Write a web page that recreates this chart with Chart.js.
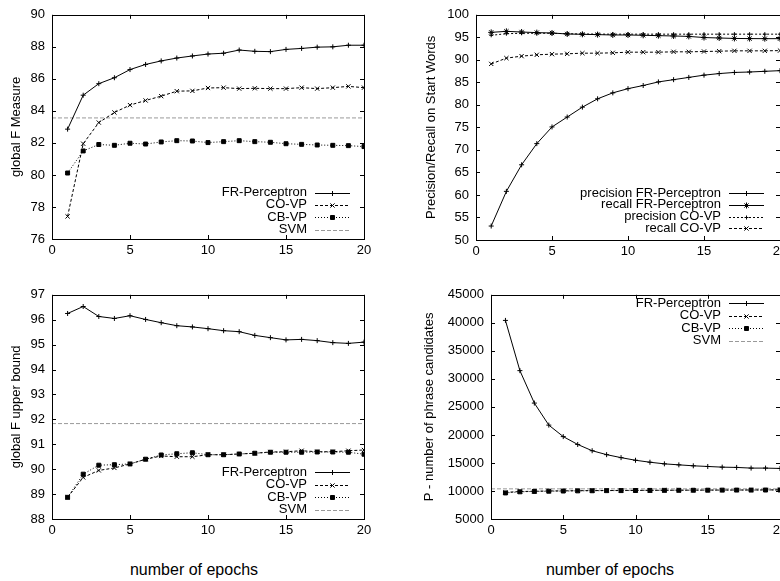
<!DOCTYPE html>
<html>
<head>
<meta charset="utf-8">
<script src="https://cdn.jsdelivr.net/npm/chart.js@4.4.1/dist/chart.umd.min.js"></script>
<style>
  html, body { margin: 0; padding: 0; background: #fff; }
  body { width: 780px; height: 581px; position: relative; overflow: hidden; font-family: 'Liberation Sans', Arial, sans-serif; }
  canvas { position: absolute; }
  .xtitle { position: absolute; font-size: 16px; color: #000; transform: translate(-50%, -50%); white-space: nowrap; }
</style>
</head>
<body>
<canvas id="c1" width="390" height="290" style="left:0;top:0"></canvas>
<canvas id="c2" width="420" height="290" style="left:390px;top:0"></canvas>
<canvas id="c3" width="390" height="270" style="left:0;top:280px"></canvas>
<canvas id="c4" width="420" height="270" style="left:390px;top:280px"></canvas>
<div class="xtitle" style="left:194px;top:570px">number of epochs</div>
<div class="xtitle" style="left:610px;top:570px">number of epochs</div>

<script>
// Datos
const epochs = [1, 2, 3, 4, 5, 6, 7, 8, 9, 10, 11, 12, 13, 14, 15, 16, 17, 18, 19, 20];
const xTicks = [0, 5, 10, 15, 20];

// global F Measure
const fMeasureFR = [82.86, 84.98, 85.70, 86.07, 86.58, 86.90, 87.12, 87.30, 87.43, 87.55, 87.60, 87.80, 87.72, 87.70, 87.84, 87.90, 87.98, 88.00, 88.10, 88.10];
const fMeasureCO = [77.41, 81.95, 83.27, 83.90, 84.36, 84.65, 84.92, 85.23, 85.25, 85.43, 85.45, 85.39, 85.41, 85.39, 85.39, 85.45, 85.39, 85.45, 85.53, 85.45];
const fMeasureCB = [80.12, 81.50, 81.90, 81.85, 81.98, 81.93, 82.06, 82.14, 82.12, 82.02, 82.08, 82.14, 82.08, 82.04, 81.95, 81.91, 81.87, 81.85, 81.83, 81.77];
const fMeasureSVM = 83.56;
const fMeasureTicks = [76, 90, 2];

// Precision/Recall on Start Words
const precisionFR = [53.1, 60.8, 66.7, 71.4, 75.1, 77.3, 79.5, 81.35, 82.67, 83.6, 84.3, 85.1, 85.6, 86.1, 86.6, 86.95, 87.2, 87.3, 87.45, 87.6];
const recallFR = [96.1, 96.33, 96.18, 96.04, 95.96, 95.74, 95.67, 95.6, 95.52, 95.52, 95.45, 95.37, 95.3, 95.2, 94.95, 94.85, 94.75, 94.72, 94.7, 94.7];
const precisionCO = [95.45, 95.8, 95.9, 95.9, 95.9, 95.8, 95.74, 95.72, 95.7, 95.7, 95.7, 95.7, 95.7, 95.7, 95.7, 95.7, 95.7, 95.7, 95.7, 95.7];
const recallCO = [89.1, 90.38, 90.82, 91.12, 91.26, 91.34, 91.48, 91.48, 91.56, 91.7, 91.7, 91.7, 91.78, 91.78, 91.85, 91.92, 92.0, 92.0, 92.0, 92.05];
const prTicks = [50, 100, 5];

// global F upper bound
const upperFR = [96.25, 96.53, 96.13, 96.05, 96.16, 96.01, 95.88, 95.76, 95.71, 95.64, 95.56, 95.52, 95.37, 95.28, 95.19, 95.21, 95.16, 95.08, 95.05, 95.10];
const upperCO = [88.87, 89.67, 89.95, 90.05, 90.21, 90.40, 90.53, 90.50, 90.50, 90.58, 90.58, 90.61, 90.64, 90.69, 90.70, 90.74, 90.70, 90.70, 90.74, 90.77];
const upperCB = [88.87, 89.80, 90.16, 90.18, 90.21, 90.40, 90.57, 90.62, 90.66, 90.58, 90.58, 90.61, 90.64, 90.68, 90.68, 90.68, 90.69, 90.69, 90.68, 90.60];
const upperSVM = 91.83;
const upperTicks = [88, 97, 1];

// P - number of phrase candidates
const candFR = [40430, 31470, 25680, 21750, 19700, 18300, 17180, 16480, 15950, 15480, 15130, 14840, 14660, 14490, 14370, 14250, 14200, 14080, 14080, 14020];
const candCO = [9750, 9900, 9950, 10000, 10020, 10050, 10070, 10080, 10100, 10110, 10120, 10130, 10140, 10150, 10160, 10170, 10170, 10180, 10190, 10200];
const candCB = [9650, 9850, 9920, 9960, 9990, 10020, 10040, 10060, 10070, 10080, 10100, 10110, 10120, 10130, 10140, 10150, 10160, 10160, 10170, 10180];
const candSVM = 10380;
const candTicks = [5000, 45000, 5000];

Chart.defaults.font.family = "'Liberation Sans', Arial, Helvetica, sans-serif";
Chart.defaults.font.size = 13;
Chart.defaults.color = '#000';

// Estilos tipo gnuplot
const estilos = {
  solidPlus: { borderDash: [], pointStyle: 'cross', pointRadius: 2.5 },
  solidStar: { borderDash: [], pointStyle: 'star', pointRadius: 3 },
  dashX: { borderDash: [3, 2], pointStyle: 'crossRot', pointRadius: 3 },
  dashPlus: { borderDash: [2, 2], pointStyle: 'cross', pointRadius: 2 },
  dotRect: { borderDash: [1, 2], pointStyle: 'rect', pointRadius: 2.8 },
  svm: { borderDash: [4, 2], borderColor: '#999', pointRadius: 0 }
};

function serie(label, valores, estilo) {
  return Object.assign({
    label,
    data: valores.map((v, i) => ({ x: epochs[i], y: v })),
    borderColor: '#000',
    backgroundColor: '#000',
    pointBorderColor: '#000',
    pointBackgroundColor: '#000',
    borderWidth: 1,
    pointBorderWidth: 1,
    tension: 0
  }, estilo);
}

function constante(label, valor) {
  const d = serie(label, [], estilos.svm);
  d.data = [xTicks[0], xTicks[xTicks.length - 1]].map(x => ({ x, y: valor }));
  return d;
}

// Marco con ticks hacia dentro
const marcoGnuplot = {
  id: 'marcoGnuplot',
  afterDatasetsDraw(chart) {
    const { ctx, chartArea: a, scales: { x, y } } = chart;
    ctx.save();
    ctx.strokeStyle = '#000';
    ctx.lineWidth = 1;
    ctx.setLineDash([]);
    ctx.beginPath();
    x.ticks.forEach(t => {
      const px = Math.round(x.getPixelForValue(t.value)) + 0.5;
      ctx.moveTo(px, a.bottom); ctx.lineTo(px, a.bottom - 4);
      ctx.moveTo(px, a.top); ctx.lineTo(px, a.top + 4);
    });
    y.ticks.forEach(t => {
      const py = Math.round(y.getPixelForValue(t.value)) + 0.5;
      ctx.moveTo(a.left, py); ctx.lineTo(a.left + 4, py);
      ctx.moveTo(a.right, py); ctx.lineTo(a.right - 4, py);
    });
    ctx.stroke();
    ctx.strokeRect(Math.round(a.left) + 0.5, Math.round(a.top) + 0.5, Math.round(a.right - a.left), Math.round(a.bottom - a.top));
    ctx.restore();
  }
};

// Leyenda: texto a la izquierda, muestra de línea a la derecha
const leyendaGnuplot = {
  id: 'leyendaGnuplot',
  afterDraw(chart, args, opts) {
    const { ctx } = chart;
    ctx.save();
    ctx.font = "13px 'Liberation Sans', Arial, sans-serif";
    ctx.textAlign = 'right';
    ctx.textBaseline = 'middle';
    chart.data.datasets.forEach((ds, i) => {
      const y = opts.top + i * opts.step;
      ctx.fillStyle = '#000';
      ctx.fillText(ds.label, opts.right, y);
      const x0 = opts.right + 8, x1 = x0 + 35;
      ctx.strokeStyle = ds.borderColor;
      ctx.lineWidth = 1;
      ctx.setLineDash(ds.borderDash || []);
      ctx.beginPath();
      ctx.moveTo(x0, Math.round(y) + 0.5);
      ctx.lineTo(x1, Math.round(y) + 0.5);
      ctx.stroke();
      ctx.setLineDash([]);
      if (ds.pointRadius > 0) {
        ctx.fillStyle = '#000';
        ctx.strokeStyle = '#000';
        Chart.helpers.drawPoint(ctx, { pointStyle: ds.pointStyle, radius: ds.pointRadius, rotation: 0, borderWidth: 1 }, (x0 + x1) / 2, Math.round(y) + 0.5);
      }
    });
    ctx.restore();
  }
};

function crearPanel(id, cfg) {
  const [yMin, yMax, yStep] = cfg.yTicks;
  return new Chart(document.getElementById(id), {
    type: 'line',
    data: { datasets: cfg.datasets },
    options: {
      responsive: false,
      animation: false,
      layout: { padding: cfg.padding },
      plugins: {
        legend: { display: false },
        tooltip: { enabled: false },
        leyendaGnuplot: cfg.leyenda
      },
      scales: {
        x: {
          type: 'linear',
          min: xTicks[0],
          max: xTicks[xTicks.length - 1],
          ticks: { stepSize: 5, padding: 4, maxRotation: 0 },
          grid: { display: false, drawTicks: false },
          border: { display: false },
          afterFit: s => { s.height = cfg.xHeight; }
        },
        y: {
          type: 'linear',
          min: yMin,
          max: yMax,
          ticks: { stepSize: yStep, padding: 7, callback: v => String(v) },
          grid: { display: false, drawTicks: false },
          border: { display: false },
          title: { display: true, text: cfg.yTitle, font: { size: 13 }, padding: { top: cfg.titlePad, bottom: 0 } },
          afterFit: s => { s.width = cfg.yWidth; }
        }
      }
    },
    plugins: [marcoGnuplot, leyendaGnuplot]
  });
}

crearPanel('c1', {
  datasets: [
    serie('FR-Perceptron', fMeasureFR, estilos.solidPlus),
    serie('CO-VP', fMeasureCO, estilos.dashX),
    serie('CB-VP', fMeasureCB, estilos.dotRect),
    constante('SVM', fMeasureSVM)
  ],
  yTicks: fMeasureTicks,
  yTitle: 'global F Measure',
  padding: { top: 12, right: 26, left: 0, bottom: 0 },
  yWidth: 52, xHeight: 51, titlePad: 9,
  leyenda: { right: 307, top: 192.5, step: 12.4 }
});

crearPanel('c2', {
  datasets: [
    serie('precision FR-Perceptron', precisionFR, estilos.solidPlus),
    serie('recall FR-Perceptron', recallFR, estilos.solidStar),
    serie('precision CO-VP', precisionCO, estilos.dashPlus),
    serie('recall CO-VP', recallCO, estilos.dashX)
  ],
  yTicks: prTicks,
  yTitle: 'Precision/Recall on Start Words',
  padding: { top: 13, right: 30, left: 0, bottom: 0 },
  yWidth: 86, xHeight: 50, titlePad: 34,
  leyenda: { right: 331, top: 193, step: 11.8 }
});

crearPanel('c3', {
  datasets: [
    serie('FR-Perceptron', upperFR, estilos.solidPlus),
    serie('CO-VP', upperCO, estilos.dashX),
    serie('CB-VP', upperCB, estilos.dotRect),
    constante('SVM', upperSVM)
  ],
  yTicks: upperTicks,
  yTitle: 'global F upper bound',
  padding: { top: 12, right: 26, left: 0, bottom: 0 },
  yWidth: 52, xHeight: 31, titlePad: 9,
  leyenda: { right: 307, top: 192.3, step: 12.5 }
});

crearPanel('c4', {
  datasets: [
    serie('FR-Perceptron', candFR, estilos.solidPlus),
    serie('CO-VP', candCO, estilos.dashX),
    serie('CB-VP', candCB, estilos.dotRect),
    constante('SVM', candSVM)
  ],
  yTicks: candTicks,
  yTitle: 'P - number of phrase candidates',
  padding: { top: 12, right: 30, left: 0, bottom: 0 },
  yWidth: 101, xHeight: 31, titlePad: 32,
  leyenda: { right: 331, top: 23, step: 12.6 }
});
</script>
</body>
</html>
